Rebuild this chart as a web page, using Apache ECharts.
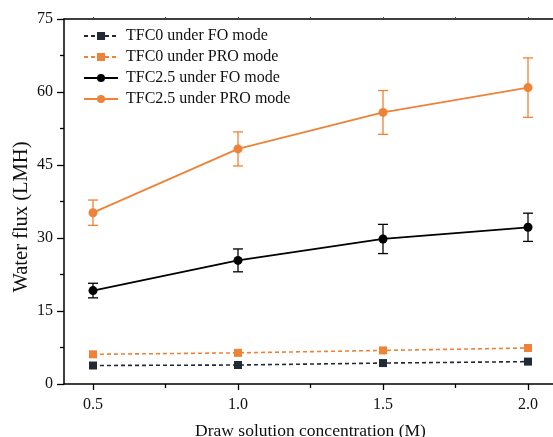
<!DOCTYPE html>
<html>
<head>
<meta charset="utf-8">
<script src="https://cdn.jsdelivr.net/npm/echarts@6/dist/echarts.min.js"></script>
<style>html,body{margin:0;padding:0;background:#fff}#c{width:553px;height:437px}</style>
</head>
<body>
<div id="c"></div>
<script>
var concentrations = [0.5, 1.0, 1.5, 2.0];
var seriesNames = ['TFC0 under FO mode', 'TFC0 under PRO mode', 'TFC2.5 under FO mode', 'TFC2.5 under PRO mode'];
var tfc0FO = [3.8, 3.9, 4.3, 4.6];
var tfc0PRO = [6.1, 6.4, 6.9, 7.4];
var tfc25FO = [19.2, 25.4, 29.8, 32.2];
var tfc25FOErr = [1.5, 2.35, 3.0, 2.9];
var tfc25PRO = [35.2, 48.3, 55.8, 60.9];
var tfc25PROErr = [2.6, 3.5, 4.5, 6.1];
var xMajorTicks = [0.5, 1.0, 1.5, 2.0];
var xMinorTicks = [0.75, 1.25, 1.75];
var yTicks = [0, 15, 30, 45, 60, 75];

var FONT = "'Liberation Serif', 'Times New Roman', serif";
var ORANGE = '#EE8236';
var NAVY = '#222a35';
var BLACK = '#000000';

function pairs(vals) { return concentrations.map(function (x, i) { return [x, vals[i]]; }); }
function errData(vals, errs) { return concentrations.map(function (x, i) { return [x, vals[i] - errs[i], vals[i] + errs[i]]; }); }

function errRender(color) {
  return function (params, api) {
    var x = api.value(0);
    var lo = api.coord([x, api.value(1)]);
    var hi = api.coord([x, api.value(2)]);
    var cap = 5;
    var st = { stroke: color, lineWidth: 1.3 };
    return {
      type: 'group',
      children: [
        { type: 'line', shape: { x1: lo[0], y1: lo[1], x2: hi[0], y2: hi[1] }, style: st },
        { type: 'line', shape: { x1: lo[0] - cap, y1: lo[1], x2: lo[0] + cap, y2: lo[1] }, style: st },
        { type: 'line', shape: { x1: hi[0] - cap, y1: hi[1], x2: hi[0] + cap, y2: hi[1] }, style: st }
      ]
    };
  };
}

var chart = echarts.init(document.getElementById('c'), null, { renderer: 'canvas' });
var axisLineStyle = { color: '#000', width: 1.5 };
var option = {
  animation: false,
  backgroundColor: '#fff',
  textStyle: { fontFamily: FONT },
  grid: { left: 64, top: 19, right: -4, bottom: 53, containLabel: false, outerBoundsMode: 'none' },
  legend: {
    left: 83, top: 28, orient: 'vertical', padding: 0,
    itemWidth: 34, itemHeight: 10, itemGap: 5,
    data: seriesNames,
    textStyle: { fontFamily: FONT, fontSize: 16, color: '#111', lineHeight: 15, padding: [0, 0, 0, 3] }
  },
  xAxis: [
    {
      type: 'value', min: 0.4, max: 2.1, position: 'bottom',
      name: 'Draw solution concentration (M)', nameLocation: 'middle', nameGap: 38, nameMoveOverlap: false,
      nameTextStyle: { fontFamily: FONT, fontSize: 17.5, color: '#111' },
      axisLine: { lineStyle: axisLineStyle },
      axisTick: { show: true, inside: false, length: 6, customValues: xMajorTicks, lineStyle: { color: '#000', width: 1.3 } },
      axisLabel: { customValues: xMajorTicks, margin: 13, fontFamily: FONT, fontSize: 16, color: '#111', formatter: function (v) { return v.toFixed(1); } },
      splitLine: { show: false }
    },
    {
      type: 'value', min: 0.4, max: 2.1, position: 'bottom',
      axisLine: { show: false },
      axisTick: { show: true, length: 4, customValues: xMinorTicks, lineStyle: { color: '#000', width: 1.3 } },
      axisLabel: { show: false }, splitLine: { show: false }
    },
    {
      type: 'value', min: 0.4, max: 2.1, position: 'top',
      axisLine: { lineStyle: axisLineStyle },
      axisTick: { show: true, length: 2, customValues: xMajorTicks.concat(xMinorTicks), lineStyle: { color: '#444', width: 1 } },
      axisLabel: { show: false }, splitLine: { show: false }
    }
  ],
  yAxis: [
    {
      type: 'value', min: 0, max: 75, interval: 15,
      name: 'Water flux (LMH)', nameLocation: 'middle', nameGap: 32, nameMoveOverlap: false,
      nameTextStyle: { fontFamily: FONT, fontSize: 20.5, color: '#111', padding: [0, 31, 0, 0] },
      axisLine: { show: true, lineStyle: axisLineStyle },
      axisTick: { show: true, length: 7, lineStyle: { color: '#000', width: 1.3 } },
      minorTick: { show: true, splitNumber: 2, length: 4, lineStyle: { color: '#000', width: 1.3 } },
      axisLabel: { margin: 11, fontFamily: FONT, fontSize: 16, color: '#111', customValues: yTicks },
      splitLine: { show: false }
    }
  ],
  series: [
    {
      name: seriesNames[0], type: 'line', data: pairs(tfc0FO), z: 3,
      symbol: 'rect', symbolSize: 8,
      itemStyle: { color: NAVY }, lineStyle: { color: NAVY, width: 1.6, type: [4, 3] }
    },
    {
      name: seriesNames[1], type: 'line', data: pairs(tfc0PRO), z: 3,
      symbol: 'rect', symbolSize: 8,
      itemStyle: { color: ORANGE }, lineStyle: { color: ORANGE, width: 1.6, type: [4, 3] }
    },
    {
      name: seriesNames[2], type: 'line', data: pairs(tfc25FO), z: 3,
      symbol: 'circle', symbolSize: 9,
      itemStyle: { color: BLACK }, lineStyle: { color: BLACK, width: 1.8 }
    },
    {
      name: seriesNames[3], type: 'line', data: pairs(tfc25PRO), z: 3,
      symbol: 'circle', symbolSize: 9,
      itemStyle: { color: ORANGE }, lineStyle: { color: ORANGE, width: 1.8 }
    },
    {
      type: 'custom', renderItem: errRender(BLACK), data: errData(tfc25FO, tfc25FOErr), z: 2,
      encode: { x: 0, y: [1, 2] }
    },
    {
      type: 'custom', renderItem: errRender(ORANGE), data: errData(tfc25PRO, tfc25PROErr), z: 2,
      encode: { x: 0, y: [1, 2] }
    }
  ]
};
chart.setOption(option);
</script>
</body>
</html>
